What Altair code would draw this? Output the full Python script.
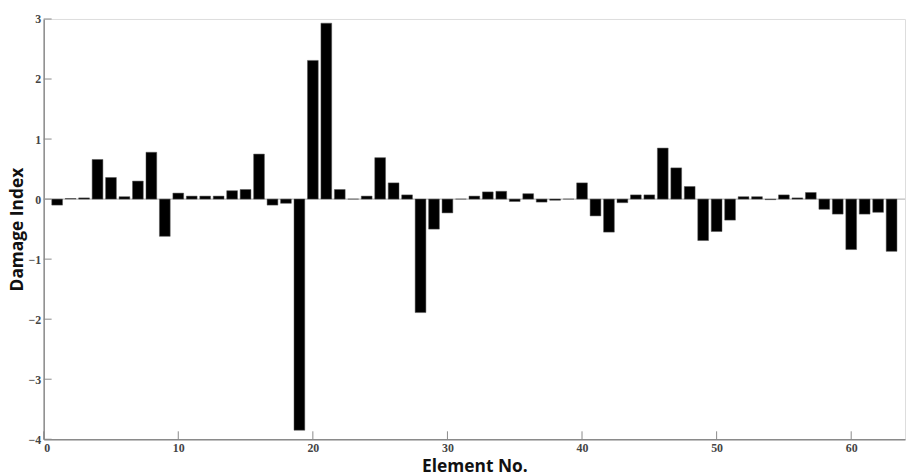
import altair as alt
import pandas as pd

elements = list(range(1, 64))
values = [
    -0.10, 0.01, 0.02, 0.66, 0.36, 0.04, 0.30, 0.78, -0.62, 0.10,
    0.05, 0.05, 0.05, 0.14, 0.16, 0.75, -0.10, -0.07, -3.85, 2.31,
    2.93, 0.16, 0.0, 0.05, 0.69, 0.27, 0.07, -1.89, -0.50, -0.23,
    0.0, 0.05, 0.12, 0.13, -0.04, 0.09, -0.05, -0.02, 0.0, 0.27,
    -0.28, -0.55, -0.06, 0.07, 0.07, 0.85, 0.52, 0.21, -0.69, -0.54,
    -0.35, 0.04, 0.04, -0.01, 0.07, 0.02, 0.11, -0.17, -0.25, -0.84,
    -0.25, -0.22, -0.87,
]
x_ticks = [0, 10, 20, 30, 40, 50, 60]
y_ticks = [-4, -3, -2, -1, 0, 1, 2, 3]

W, H = 869, 424
df = pd.DataFrame({"el": elements, "val": values})
xt = pd.DataFrame({"t": x_ticks})
yt = pd.DataFrame({"t": y_ticks})

xscale = alt.Scale(domain=[0, 64], nice=False, zero=False)
yscale = alt.Scale(domain=[-4, 3], nice=False)

label_font = "Liberation Serif"
title_font = "Open Sans"

x_axis = alt.Axis(values=x_ticks, format="d", grid=False, ticks=False, domainColor="#8a8a8a",
                  domainWidth=1.5, labelFont=label_font, labelFontSize=12,
                  labelFontWeight="bold", labelColor="#444", labelPadding=3,
                  title="Element No.", titleFont=title_font, titleFontSize=17.5,
                  titleFontWeight="bold", titleColor="#111", titlePadding=5)
y_axis = alt.Axis(values=y_ticks, format="d", grid=False, ticks=False, domainColor="#8a8a8a",
                  domainWidth=1.5, labelFont=label_font, labelFontSize=12,
                  labelFontWeight="bold", labelColor="#444", labelPadding=3,
                  title="Damage Index", titleFont=title_font, titleFontSize=17.5,
                  titleFontWeight="bold", titleColor="#111", titlePadding=2)

bars = alt.Chart(df).transform_calculate(
    x0="datum.el - 0.4", x1="datum.el + 0.4"
).mark_bar(color="black", stroke="#555", strokeWidth=0.5).encode(
    x=alt.X("x0:Q", scale=xscale, axis=x_axis),
    x2="x1:Q",
    y=alt.Y("val:Q", scale=yscale, axis=y_axis),
    y2=alt.datum(0),
)

zero_line = alt.Chart(pd.DataFrame({"z": [0]})).mark_rule(color="#aaa", strokeWidth=1).encode(
    y=alt.Y("z:Q", scale=yscale),
    x=alt.value(0), x2=alt.value(W),
)

xticks = alt.Chart(xt).mark_rule(color="#8a8a8a", strokeWidth=1).encode(
    x=alt.X("t:Q", scale=xscale),
    y=alt.value(H - 8), y2=alt.value(H),
)
yticks = alt.Chart(yt).mark_rule(color="#8a8a8a", strokeWidth=1).encode(
    y=alt.Y("t:Q", scale=yscale),
    x=alt.value(0), x2=alt.value(8),
)

chart = alt.layer(zero_line, bars, xticks, yticks).properties(
    width=W, height=H,
    autosize=alt.AutoSizeParams(type="none"),
    padding={"left": 36, "top": 9, "right": 4, "bottom": 36},
).configure_view(stroke=None).configure(background="white")

chart.save("out.html", embed_options={"renderer": "svg", "actions": False})
